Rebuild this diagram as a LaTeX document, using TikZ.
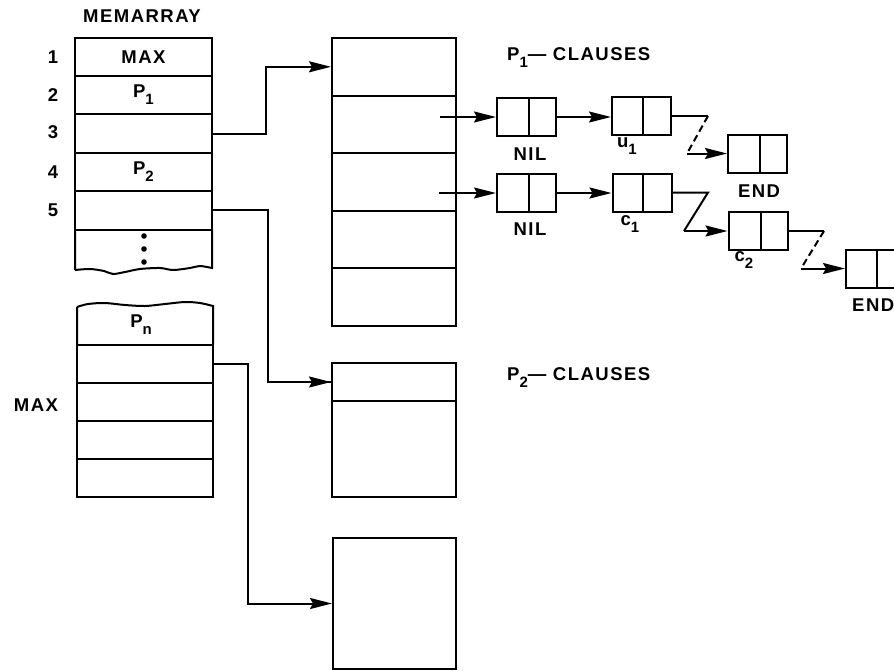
\documentclass[tikz,border=0pt]{standalone}
\usepackage{fontspec}
\setmainfont{Liberation Sans}[LetterSpace=8]
\usetikzlibrary{arrows.meta}
\newcommand\subsc[1]{\raisebox{-7pt}{\fontsize{15}{15}\selectfont #1}}
\begin{document}
\begin{tikzpicture}[x=1pt,y=-1pt,
  lbl/.style={font=\bfseries\fontsize{18.5}{18.5}\selectfont, inner sep=0pt},
  rowbox/.style={draw, line width=2pt, minimum width=137pt, minimum height=38.4pt, inner sep=0pt, font=\bfseries\fontsize{18.5}{18.5}\selectfont},
  lowrow/.style={draw, line width=2pt, minimum width=136pt, minimum height=38pt, inner sep=0pt},
  midrow/.style={draw, line width=2pt, minimum width=124pt, minimum height=57.6pt, inner sep=0pt},
  cell/.style={draw, line width=2pt, minimum width=59pt, minimum height=38pt, inner sep=0pt},
  wire/.style={line width=2pt},
  conn/.style={line width=2pt, -{Stealth[length=22pt,width=11pt,inset=3pt]}},
  zdash/.style={line width=2pt, dash pattern=on 7pt off 4pt}]
\useasboundingbox (0,0) rectangle (894,670);
\clip (0,0) rectangle (894,670);

% ---------- upper MEMARRAY ----------
\node[lbl] (title) at (142,16) {MEMARRAY};
\node[rowbox] (m1) at (143.5,56.7) {MAX};
\node[rowbox] (m2) at (143.5,95.1) {P\subsc{1}};
\node[rowbox] (m3) at (143.5,133.5) {};
\node[rowbox] (m4) at (143.5,171.9) {P\subsc{2}};
\node[rowbox] (m5) at (143.5,210.3) {};
\draw[wire] (75,229.5) -- (75,270)
  plot[smooth] coordinates {(75,270) (90,269) (104,271) (113,274) (125,272) (140,269) (160,268) (173,270) (190,268) (200,266) (212,268)}
  -- (212,229.5);
\fill (144,236) circle (2.8) (144,249) circle (2.8) (144,262) circle (2.8);
\node[lbl] (i1) at (53,57) {1};
\node[lbl] (i2) at (53,95) {2};
\node[lbl] (i3) at (53,132) {3};
\node[lbl] (i4) at (53,172) {4};
\node[lbl] (i5) at (53,210) {5};

% ---------- lower MEMARRAY ----------
\draw[wire] (77,345) -- (77,307)
  plot[smooth] coordinates {(77,307) (88,304) (105,303) (125,305) (145,306) (165,304) (185,302) (200,303) (213,306)}
  -- (213,345);
\node[lbl] (pn) at (141,325) {P\subsc{n}};
\node[lowrow] (l2) at (145,364) {};
\node[lowrow] (l3) at (145,402) {};
\node[lowrow] (l4) at (145,440) {};
\node[lowrow] (l5) at (145,478) {};
\node[lbl] (maxl) at (36,405) {MAX};

% ---------- P1 clause table ----------
\node[midrow] (b11) at (394,66.8) {};
\node[midrow] (b12) at (394,124.4) {};
\node[midrow] (b13) at (394,182) {};
\node[midrow] (b14) at (394,239.6) {};
\node[midrow] (b15) at (394,297.2) {};
\node[lbl, anchor=west] (p1c) at (507,58) {P\subsc{1}--- CLAUSES};

% ---------- P2 clause table ----------
\node[draw, line width=2pt, minimum width=124pt, minimum height=38pt, inner sep=0pt] (b21) at (394,382) {};
\node[draw, line width=2pt, minimum width=124pt, minimum height=96pt, inner sep=0pt] (b22) at (394,449) {};
\node[lbl, anchor=west] (p2c) at (507,378) {P\subsc{2}--- CLAUSES};

% ---------- Pn clause table ----------
\node[draw, line width=2pt, minimum width=123pt, minimum height=131pt, inner sep=0pt] (b31) at (394.5,603.5) {};

% ---------- array connectors ----------
\draw[conn] (m3.east) -- (266,133.5) |- (b11.west);
\draw[wire] (m5.east) -- (268,210.3) |- (b21.west);
\draw[conn] (268,382) -- (b21.west);
\draw[conn] (l2.east) -- (248,364) |- (b31.west);

% ---------- cons cells ----------
\node[cell] (n1) at (526.5,117) {};
\node[cell] (n2) at (526.5,193) {};
\node[cell] (u1) at (641.5,116) {};
\node[cell] (c1) at (642,192.5) {};
\node[cell] (e1) at (757.5,153.5) {};
\node[cell] (c2) at (758,231) {};
\node[cell] (e2) at (875.5,268.5) {};
\foreach \c/\d in {n1/2.5, n2/2.5, u1/1.5, c1/1, e1/2, c2/2.5, e2/1.5}
  \draw[line width=2pt] ([xshift=\d pt]\c.north) -- ([xshift=\d pt]\c.south);

\coordinate (s1) at (440,117);
\coordinate (s2) at (439,193);
\draw[conn] (s1) -- (n1.west);
\draw[conn] (s2) -- (n2.west);
\draw[conn] (n1.east) -- (n1.east -| u1.west);
\draw[conn] (n2.east) -- (n2.east -| c1.west);

\coordinate (z1a) at (708,116);
\coordinate (z1b) at (687,153.5);
\draw[wire] (u1.east) -- (z1a);
\draw[zdash] (z1a) -- (z1b);
\draw[conn] (z1b) -- (e1.west);

\coordinate (z2a) at (708,192.5);
\coordinate (z2b) at (684,231);
\draw[wire] (c1.east) -- (z2a) -- (z2b);
\draw[conn] (z2b) -- (c2.west);

\coordinate (z3a) at (824,231);
\coordinate (z3b) at (801,268.5);
\draw[wire] (c2.east) -- (z3a);
\draw[zdash] (z3a) -- (z3b);
\draw[conn] (z3b) -- (e2.west);

\node[lbl] (nil1) at (530,154) {NIL};
\node[lbl] (nil2) at (530,229) {NIL};
\node[lbl] (ul) at (627,146) {u\subsc{1}};
\node[lbl] (cl1) at (630,224) {c\subsc{1}};
\node[lbl] (cl2) at (744,260) {c\subsc{2}};
\node[lbl] (end1) at (759,191) {END};
\node[lbl, anchor=west] (end2) at (852,305) {END};
\end{tikzpicture}
\end{document}
